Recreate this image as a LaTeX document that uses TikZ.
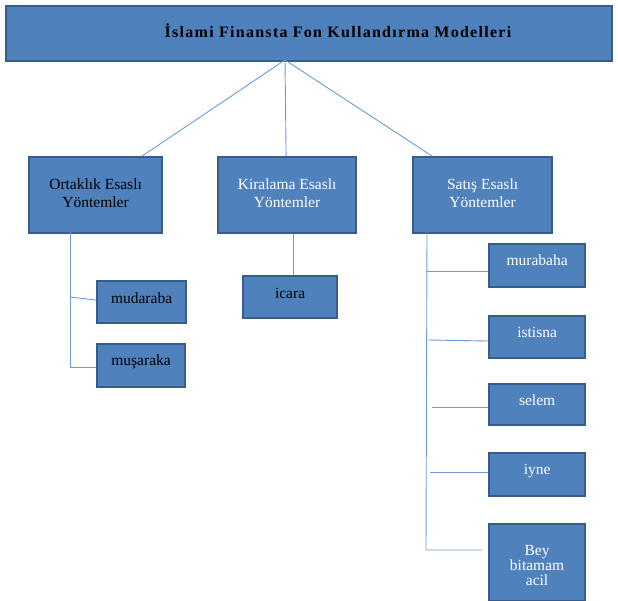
\documentclass[tikz,border=0pt]{standalone}
\usepackage{fontspec}
\setmainfont{Liberation Serif}
\newfontfamily\titlefont[LetterSpace=8]{Liberation Serif}
\usetikzlibrary{calc}
\definecolor{boxfill}{HTML}{4F81BD}
\definecolor{boxline}{HTML}{385D8A}
\definecolor{conn}{HTML}{6F9AD0}
\begin{document}
\begin{tikzpicture}[x=1pt,y=-1pt,
  box/.style={draw=boxline, line width=2.2pt, fill=boxfill, inner sep=0pt, anchor=north west},
  lab/.style={inner sep=0pt, align=center, font=\fontsize{15.5}{17.5}\selectfont},
  wt/.style={lab, text=white},
  bk/.style={lab, text=black},
  link/.style={draw=conn, line width=0.9pt}]
\useasboundingbox (0,0) rectangle (618,601);
% top box
\node[box, minimum width=606, minimum height=55] (top) at (5,5) {};
\node[font=\titlefont\bfseries\fontsize{16}{18}\selectfont, text=black, inner sep=0pt] (title) at (338,31) {İslami Finansta Fon Kullandırma Modelleri};
\coordinate (hub) at (285,60);
% level 2
\node[box, minimum width=133, minimum height=76] (ort) at (28,156) {};
\node[bk] (ortT) at ([yshift=2pt]ort.center) {Ortaklık Esaslı\\Yöntemler};
\node[box, minimum width=138, minimum height=76] (kir) at (217,156) {};
\node[wt] (kirT) at ([yshift=2pt]kir.center) {Kiralama Esaslı\\Yöntemler};
\node[box, minimum width=139, minimum height=76] (sat) at (412,156) {};
\node[wt] (satT) at ([yshift=2pt]sat.center) {Satış Esaslı\\Yöntemler};
\draw[link] (hub) -- ([xshift=-21]ort.north east);
\draw[link] (hub) -- ([xshift=-1]kir.north);
\draw[link] (hub) -- ([xshift=20]sat.north west);
% Ortaklık children
\node[box, minimum width=89, minimum height=42] (mud) at (96,280) {};
\node[bk] (mudT) at ([yshift=4pt]mud.center) {mudaraba};
\node[box, minimum width=88, minimum height=43] (mus) at (96,343) {};
\node[bk] (musT) at ([yshift=4pt]mus.center) {muşaraka};
\coordinate (o1) at (70,232);
\coordinate (o2) at (70,297);
\coordinate (o3) at (70,367);
\draw[link] (o1) -- (o3) -- (mus.west |- o3);
\draw[link] (o2) -- ([yshift=2]mud.west);
% Kiralama child
\node[box, minimum width=94, minimum height=42] (ica) at (242,275) {};
\node[bk] (icaT) at ([yshift=4pt]ica.center) {icara};
\draw[link] ([xshift=6]kir.south) -- ([xshift=6]kir.south |- ica.north);
% Satış children
\node[box, minimum width=96, minimum height=43] (mur) at (488,243) {};
\node[wt] (murT) at ([yshift=5pt]mur.center) {murabaha};
\node[box, minimum width=96, minimum height=42] (ist) at (488,315) {};
\node[wt] (istT) at ([yshift=5pt]ist.center) {istisna};
\node[box, minimum width=96, minimum height=41] (sel) at (488,383) {};
\node[wt] (selT) at ([yshift=4pt]sel.center) {selem};
\node[box, minimum width=96, minimum height=43] (iyn) at (488,452) {};
\node[wt] (iynT) at ([yshift=4pt]iyn.center) {iyne};
\node[box, minimum width=96, minimum height=77] (bey) at (488,523) {};
\node[wt, font=\fontsize{15.5}{15}\selectfont] (beyT) at ([yshift=-3pt]bey.center) {Bey\\bitamam\\acil};
\coordinate (s1) at (427,232);
\coordinate (s2) at (426,550);
\coordinate (s3) at (482,550);
\coordinate (sm) at (427,271);
\coordinate (si) at (428,340);
\coordinate (ss) at (432,407);
\coordinate (sy) at (430,472);
\draw[link] (s1) -- (s2) -- (s3);
\draw[link] (sm) -- (mur.west |- sm);
\draw[link] (si) -- ([yshift=-1]ist.west |- si);
\draw[link] (ss) -- (sel.west |- ss);
\draw[link] (sy) -- (iyn.west |- sy);
\end{tikzpicture}
\end{document}
